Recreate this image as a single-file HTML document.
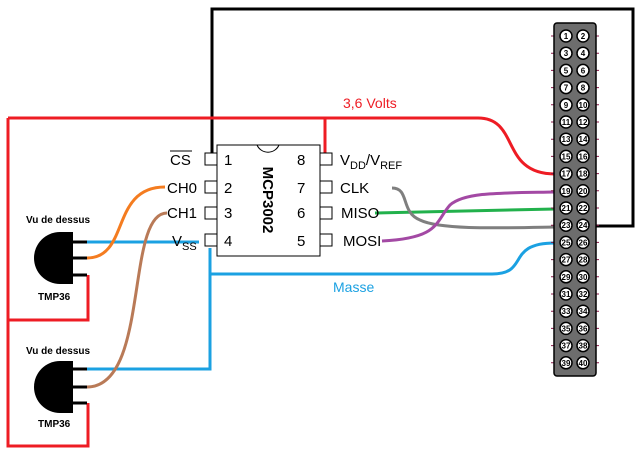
<!DOCTYPE html>
<html><head><meta charset="utf-8"><style>
html,body{margin:0;padding:0;background:#fff;}
svg{display:block;font-family:"Liberation Sans",sans-serif;}
.pn{font-size:8px;font-weight:bold;text-anchor:middle;fill:#000;}
</style></head><body>
<svg width="638" height="455" viewBox="0 0 638 455" xmlns="http://www.w3.org/2000/svg">
<g fill="none" stroke-width="3">
<polyline points="212,153 212,9 633,9 633,226 590,226" stroke="#000"/>
<path d="M8,118 H478 C520,118 500,174 555,174" stroke="#ee1c24"/>
<polyline points="325,118 325,156" stroke="#ee1c24"/>
<polyline points="8,118 8,446 88,446 88,403" stroke="#ee1c24"/>
<polyline points="8,320 88,320 88,275" stroke="#ee1c24"/>
<polyline points="87,242 199,242" stroke="#1ba1e2"/>
<polyline points="210,248 210,369 87,369" stroke="#1ba1e2"/>
<path d="M210,274 H492 C530,274 505,243 555,243" stroke="#1ba1e2"/>
<path d="M87,258 C130,258 110,187 165,187" stroke="#f47c20"/>
<path d="M87,387 C150,387 125,213 167,213" stroke="#b97a57"/>
<path d="M375,213 L555,209" stroke="#22b14c"/>
<path d="M392,188 C410,188 400,212 420,220 C440,230 500,228 555,227" stroke="#7f7f7f"/>
<path d="M382,241 C440,238 435,222 450,205 C465,192 500,193 555,192" stroke="#a349a4"/>
</g>
<rect x="217" y="145" width="103" height="111" fill="#fff" stroke="#000" stroke-width="1"/>
<path d="M257,145 A12,12 0 0 0 279,145" fill="none" stroke="#000"/>
<g fill="#fff" stroke="#000" stroke-width="1">
<rect x="205" y="153" width="12" height="12"/><rect x="205" y="181" width="12" height="12"/>
<rect x="205" y="207" width="12" height="12"/><rect x="205" y="234" width="12" height="12"/>
<rect x="320" y="153" width="12" height="12"/><rect x="320" y="181" width="12" height="12"/>
<rect x="320" y="207" width="12" height="12"/><rect x="320" y="234" width="12" height="12"/>
</g>
<g font-size="15" fill="#000">
<text x="224" y="165">1</text><text x="224" y="193">2</text><text x="224" y="218">3</text><text x="224" y="246">4</text>
<text x="297" y="165">8</text><text x="297" y="193">7</text><text x="297" y="218">6</text><text x="297" y="246">5</text>
<text x="170" y="165">CS</text>
<text x="167" y="193">CH0</text><text x="167" y="218">CH1</text>
<text x="172" y="246">V<tspan font-size="11" dy="4">SS</tspan></text>
<text x="340" y="165">V<tspan font-size="11" dy="4">DD</tspan><tspan dy="-4">/V</tspan><tspan font-size="11" dy="4">REF</tspan></text>
<text x="340" y="193">CLK</text><text x="341" y="218">MISO</text><text x="343" y="246">MOSI</text>
</g>
<line x1="170" y1="151" x2="192" y2="151" stroke="#000" stroke-width="1"/>
<text transform="translate(263,200) rotate(90)" font-size="15" font-weight="bold" text-anchor="middle">MCP3002</text>
<text x="343" y="108" font-size="14" fill="#ee1c24">3,6 Volts</text>
<text x="333" y="292" font-size="14" fill="#1ba1e2">Masse</text>
<g font-size="10" font-weight="bold">
<text x="26" y="223">Vu de dessus</text><text x="38" y="300">TMP36</text>
<text x="26" y="354">Vu de dessus</text><text x="38" y="427">TMP36</text>
</g>
<path d="M73,232 V284 H60 A26,26 0 0 1 60,232 Z" fill="#000"/>
<path d="M73,361 V413 H60 A26,26 0 0 1 60,361 Z" fill="#000"/>
<g stroke="#000" stroke-width="3">
<line x1="72" y1="242" x2="87" y2="242"/><line x1="72" y1="258" x2="87" y2="258"/><line x1="72" y1="275" x2="87" y2="275"/>
<line x1="72" y1="369" x2="87" y2="369"/><line x1="72" y1="387" x2="87" y2="387"/><line x1="72" y1="403" x2="87" y2="403"/>
</g>
<g stroke="#8b1a4a" stroke-width="1">
<line x1="551" y1="36" x2="599" y2="36"/><line x1="551" y1="53.2" x2="599" y2="53.2"/><line x1="551" y1="70.4" x2="599" y2="70.4"/><line x1="551" y1="87.6" x2="599" y2="87.6"/><line x1="551" y1="104.8" x2="599" y2="104.8"/><line x1="551" y1="122" x2="599" y2="122"/><line x1="551" y1="139.2" x2="599" y2="139.2"/><line x1="551" y1="156.4" x2="599" y2="156.4"/><line x1="551" y1="173.6" x2="599" y2="173.6"/><line x1="551" y1="190.8" x2="599" y2="190.8"/><line x1="551" y1="208" x2="599" y2="208"/><line x1="551" y1="225.2" x2="599" y2="225.2"/><line x1="551" y1="242.4" x2="599" y2="242.4"/><line x1="551" y1="259.6" x2="599" y2="259.6"/><line x1="551" y1="276.8" x2="599" y2="276.8"/><line x1="551" y1="294" x2="599" y2="294"/><line x1="551" y1="311.2" x2="599" y2="311.2"/><line x1="551" y1="328.4" x2="599" y2="328.4"/><line x1="551" y1="345.6" x2="599" y2="345.6"/><line x1="551" y1="362.8" x2="599" y2="362.8"/>
</g>
<rect x="554" y="23" width="42" height="353" rx="3" fill="#6d6d6d" stroke="#000" stroke-width="1.5"/>
<g stroke="#000" stroke-width="1.5" fill="#fff">
<circle cx="566" cy="36" r="6"/><circle cx="583" cy="36" r="6"/>
<circle cx="566" cy="53.2" r="6"/><circle cx="583" cy="53.2" r="6"/>
<circle cx="566" cy="70.4" r="6"/><circle cx="583" cy="70.4" r="6"/>
<circle cx="566" cy="87.6" r="6"/><circle cx="583" cy="87.6" r="6"/>
<circle cx="566" cy="104.8" r="6"/><circle cx="583" cy="104.8" r="6"/>
<circle cx="566" cy="122" r="6"/><circle cx="583" cy="122" r="6"/>
<circle cx="566" cy="139.2" r="6"/><circle cx="583" cy="139.2" r="6"/>
<circle cx="566" cy="156.4" r="6"/><circle cx="583" cy="156.4" r="6"/>
<circle cx="566" cy="173.6" r="6"/><circle cx="583" cy="173.6" r="6"/>
<circle cx="566" cy="190.8" r="6"/><circle cx="583" cy="190.8" r="6"/>
<circle cx="566" cy="208" r="6"/><circle cx="583" cy="208" r="6"/>
<circle cx="566" cy="225.2" r="6"/><circle cx="583" cy="225.2" r="6"/>
<circle cx="566" cy="242.4" r="6"/><circle cx="583" cy="242.4" r="6"/>
<circle cx="566" cy="259.6" r="6"/><circle cx="583" cy="259.6" r="6"/>
<circle cx="566" cy="276.8" r="6"/><circle cx="583" cy="276.8" r="6"/>
<circle cx="566" cy="294" r="6"/><circle cx="583" cy="294" r="6"/>
<circle cx="566" cy="311.2" r="6"/><circle cx="583" cy="311.2" r="6"/>
<circle cx="566" cy="328.4" r="6"/><circle cx="583" cy="328.4" r="6"/>
<circle cx="566" cy="345.6" r="6"/><circle cx="583" cy="345.6" r="6"/>
<circle cx="566" cy="362.8" r="6"/><circle cx="583" cy="362.8" r="6"/>
</g>
<g class="pn">
<text x="566" y="39">1</text><text x="583" y="39">2</text>
<text x="566" y="56.2">3</text><text x="583" y="56.2">4</text>
<text x="566" y="73.4">5</text><text x="583" y="73.4">6</text>
<text x="566" y="90.6">7</text><text x="583" y="90.6">8</text>
<text x="566" y="107.8">9</text><text x="583" y="107.8">10</text>
<text x="566" y="125">11</text><text x="583" y="125">12</text>
<text x="566" y="142.2">13</text><text x="583" y="142.2">14</text>
<text x="566" y="159.4">15</text><text x="583" y="159.4">16</text>
<text x="566" y="176.6">17</text><text x="583" y="176.6">18</text>
<text x="566" y="193.8">19</text><text x="583" y="193.8">20</text>
<text x="566" y="211">21</text><text x="583" y="211">22</text>
<text x="566" y="228.2">23</text><text x="583" y="228.2">24</text>
<text x="566" y="245.4">25</text><text x="583" y="245.4">26</text>
<text x="566" y="262.6">27</text><text x="583" y="262.6">28</text>
<text x="566" y="279.8">29</text><text x="583" y="279.8">30</text>
<text x="566" y="297">31</text><text x="583" y="297">32</text>
<text x="566" y="314.2">33</text><text x="583" y="314.2">34</text>
<text x="566" y="331.4">35</text><text x="583" y="331.4">36</text>
<text x="566" y="348.6">37</text><text x="583" y="348.6">38</text>
<text x="566" y="365.8">39</text><text x="583" y="365.8">40</text>
</g>
</svg>
</body></html>
